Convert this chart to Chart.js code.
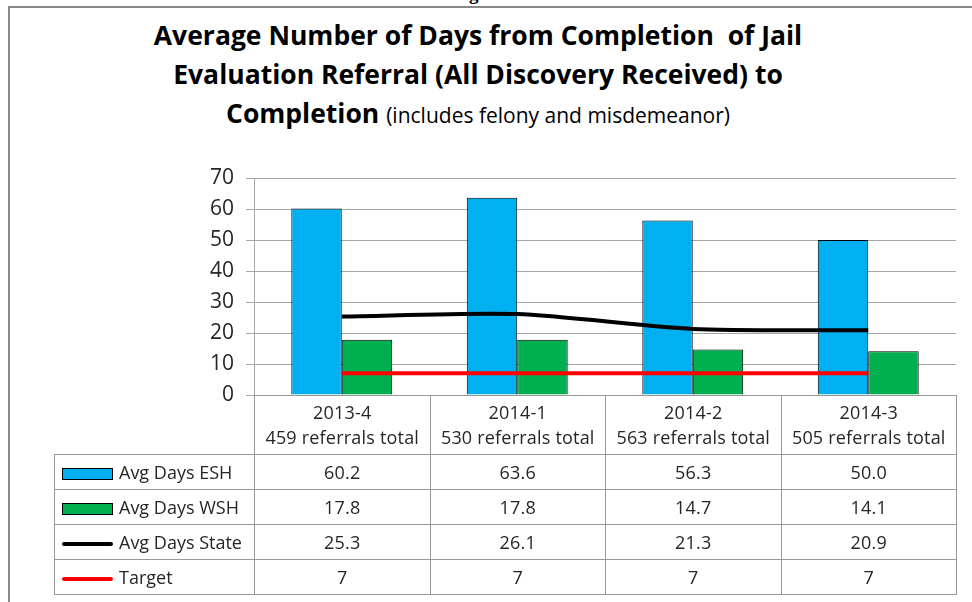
<!DOCTYPE html>
<html>
<head>
<meta charset="utf-8">
<script src="https://cdn.jsdelivr.net/npm/chart.js@4"></script>
<style>
  html, body { margin: 0; padding: 0; background: #fff; }
  body { width: 972px; height: 602px; position: relative; overflow: hidden; font-family: "Open Sans", "Noto Sans", sans-serif; color: #222; }
  #frame { position: absolute; left: 8px; top: 6px; width: 990px; height: 640px; border: 2px solid #888; box-sizing: border-box; }
  #fig { position: absolute; left: 0; width: 972px; top: -17px; text-align: center; font: bold 19px "Liberation Serif", serif; color: #000; }
  #title { position: absolute; left: 0; width: 956px; top: 16px; text-align: center; font-weight: bold; font-size: 26.5px; line-height: 39px; color: #000; }
  #title .sub { font-weight: normal; font-size: 21px; }
  #wrap { position: absolute; left: 0; top: 0; width: 972px; height: 602px; }
  #tbl { position: absolute; border-collapse: collapse; font-size: 18px; letter-spacing: 0.2px; color: #262626; }
  #tbl td { border: 1px solid #999; text-align: center; padding: 0; height: 34px; }
  #tbl tr.head td { height: 58px; line-height: 25px; }
  #tbl tr.head td.blank { border: none; border-bottom: 1px solid #999; }
  #tbl td.lab { text-align: left; white-space: nowrap; letter-spacing: 0; }
  .key { display: inline-block; width: 51px; vertical-align: middle; margin: 0 6px 0 7px; box-sizing: border-box; }
  .box { height: 12px; border: 1px solid #000; }
  .ln { height: 4px; border-radius: 2px; }
</style>
</head>
<body>
<div id="fig">Figure 8</div>
<div id="frame"></div>
<div id="title">Average Number of Days from Completion&nbsp; of Jail<br>Evaluation Referral (All Discovery Received) to<br>Completion <span class="sub">(includes felony and misdemeanor)</span></div>
<div id="wrap"><canvas id="c" width="972" height="602"></canvas></div>
<table id="tbl"></table>
<script>
const quarters = ['2013-4', '2014-1', '2014-2', '2014-3'];
const referrals = ['459 referrals total', '530 referrals total', '563 referrals total', '505 referrals total'];
const esh = [60.2, 63.6, 56.3, 50.0];
const wsh = [17.8, 17.8, 14.7, 14.1];
const state = [25.3, 26.1, 21.3, 20.9];
const target = [7, 7, 7, 7];
const yTicks = [0, 10, 20, 30, 40, 50, 60, 70];

const colors = {
    esh: '#00B0F0',
    wsh: '#00B050',
    state: '#000000',
    target: '#FF0000',
    grid: '#a6a6a6',
    text: '#262626'
};

const series = [
    { label: 'Avg Days ESH', data: esh, key: 'box', color: colors.esh, fmt: v => v.toFixed(1) },
    { label: 'Avg Days WSH', data: wsh, key: 'box', color: colors.wsh, fmt: v => v.toFixed(1) },
    { label: 'Avg Days State', data: state, key: 'ln', color: colors.state, fmt: v => v.toFixed(1) },
    { label: 'Target', data: target, key: 'ln', color: colors.target, fmt: v => String(v) }
];

// table under the plot, columns lined up with the chart area
function buildTable(chart) {
    const area = chart.chartArea;
    const colW = (area.right - area.left) / quarters.length;
    const labW = 200;
    const tbl = document.getElementById('tbl');
    tbl.style.left = (area.left - labW) + 'px';
    tbl.style.top = area.bottom + 'px';
    let html = '<colgroup><col style="width:' + labW + 'px">';
    quarters.forEach(() => { html += '<col style="width:' + colW + 'px">'; });
    html += '</colgroup><tr class="head"><td class="blank"></td>';
    quarters.forEach((q, i) => { html += '<td>' + q + '<br>' + referrals[i] + '</td>'; });
    html += '</tr>';
    series.forEach(s => {
        html += '<tr><td class="lab"><span class="key ' + s.key + '" style="background:' + s.color + '"></span>' + s.label + '</td>';
        s.data.forEach(v => { html += '<td>' + s.fmt(v) + '</td>'; });
        html += '</tr>';
    });
    tbl.innerHTML = html;
    tbl.style.width = (labW + colW * quarters.length) + 'px';
    tbl.style.tableLayout = 'fixed';
}

const tablePlugin = {
    id: 'dataTable',
    afterRender(chart) {
        if (!chart._tableDone) { chart._tableDone = true; buildTable(chart); }
    }
};

Chart.defaults.font.family = "'Open Sans', 'Noto Sans', sans-serif";

new Chart(document.getElementById('c').getContext('2d'), {
    type: 'bar',
    data: {
        labels: quarters,
        datasets: [
            { type: 'line', label: 'Avg Days State', data: state, borderColor: colors.state, borderWidth: 4, pointRadius: 0, tension: 0.25, order: 0 },
            { type: 'line', label: 'Target', data: target, borderColor: colors.target, borderWidth: 4, pointRadius: 0, tension: 0, order: 0 },
            { label: 'Avg Days ESH', data: esh, backgroundColor: colors.esh, borderColor: '#000', borderWidth: 1, order: 1 },
            { label: 'Avg Days WSH', data: wsh, backgroundColor: colors.wsh, borderColor: '#000', borderWidth: 1, order: 1 }
        ]
    },
    options: {
        responsive: false,
        animation: false,
        layout: { padding: { left: 0, right: 16, top: 178, bottom: 207 } },
        datasets: { bar: { categoryPercentage: 0.575, barPercentage: 1.0 } },
        plugins: { legend: { display: false }, tooltip: { enabled: false } },
        scales: {
            x: { display: false },
            y: {
                min: 0, max: 70,
                afterFit: scale => { scale.width = 254; },
                afterBuildTicks: scale => { scale.ticks = yTicks.map(v => ({ value: v })); },
                grid: { color: colors.grid, lineWidth: 1, tickLength: 8, tickColor: colors.grid },
                border: { color: colors.grid, width: 1 },
                ticks: { color: colors.text, font: { size: 21 }, padding: 12 }
            }
        }
    },
    plugins: [tablePlugin]
});
</script>
</body>
</html>
